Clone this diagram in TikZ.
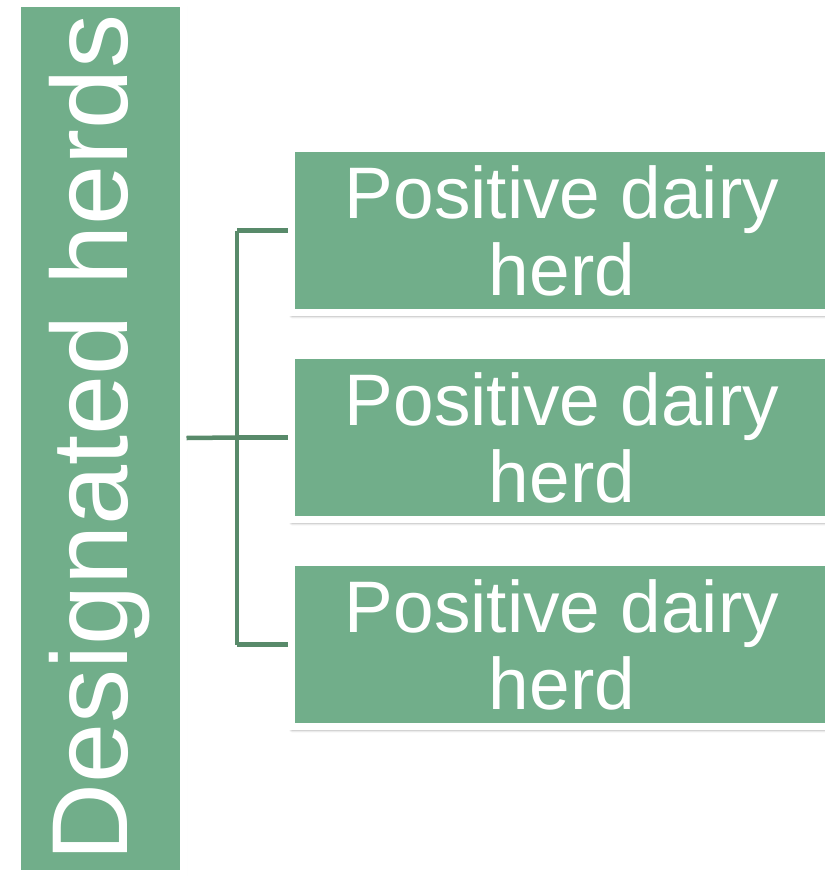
\documentclass[tikz,border=0pt]{standalone}
\usepackage{fontspec}
\setmainfont{Liberation Sans}
\usetikzlibrary{shadows.blur}
\definecolor{herdgreen}{RGB}{113,174,138}
\definecolor{linkgreen}{RGB}{88,138,106}
\tikzset{
  herdbox/.style={rectangle, fill=herdgreen, draw=white, line width=7pt,
    inner sep=0pt, text=white,
    blur shadow={shadow xshift=1pt, shadow yshift=-3pt,
      shadow blur radius=3pt, shadow opacity=55}},
  link/.style={draw=linkgreen, line width=4.5pt}
}
\begin{document}
\begin{tikzpicture}[x=1pt,y=-1pt]
\useasboundingbox (0,0) rectangle (825,876);
\clip (0,0) rectangle (825,876);

\node[herdbox, rotate=90, minimum width=870pt, minimum height=166pt,
  font=\fontsize{108}{110}\selectfont] (desig) at (100, 438) {Designated herds};

\node[herdbox, minimum width=542pt, minimum height=164pt, align=center,
  font=\fontsize{73}{77}\selectfont] (pos1) at (562, 230.5) {Positive dairy\\herd};
\node[herdbox, minimum width=542pt, minimum height=164pt, align=center,
  font=\fontsize{73}{77}\selectfont] (pos2) at (562, 437.5) {Positive dairy\\herd};
\node[herdbox, minimum width=542pt, minimum height=164pt, align=center,
  font=\fontsize{73}{77}\selectfont] (pos3) at (562, 644.5) {Positive dairy\\herd};

\coordinate (bus) at (237, 437.5);

\path[link] (desig.south) -- (bus);
\path[link] (bus |- pos1.west) -- (bus |- pos3.west);
\path[link] (bus |- pos1.west) -- (pos1.west);
\path[link] (bus |- pos2.west) -- (pos2.west);
\path[link] (bus |- pos3.west) -- (pos3.west);
\end{tikzpicture}
\end{document}
